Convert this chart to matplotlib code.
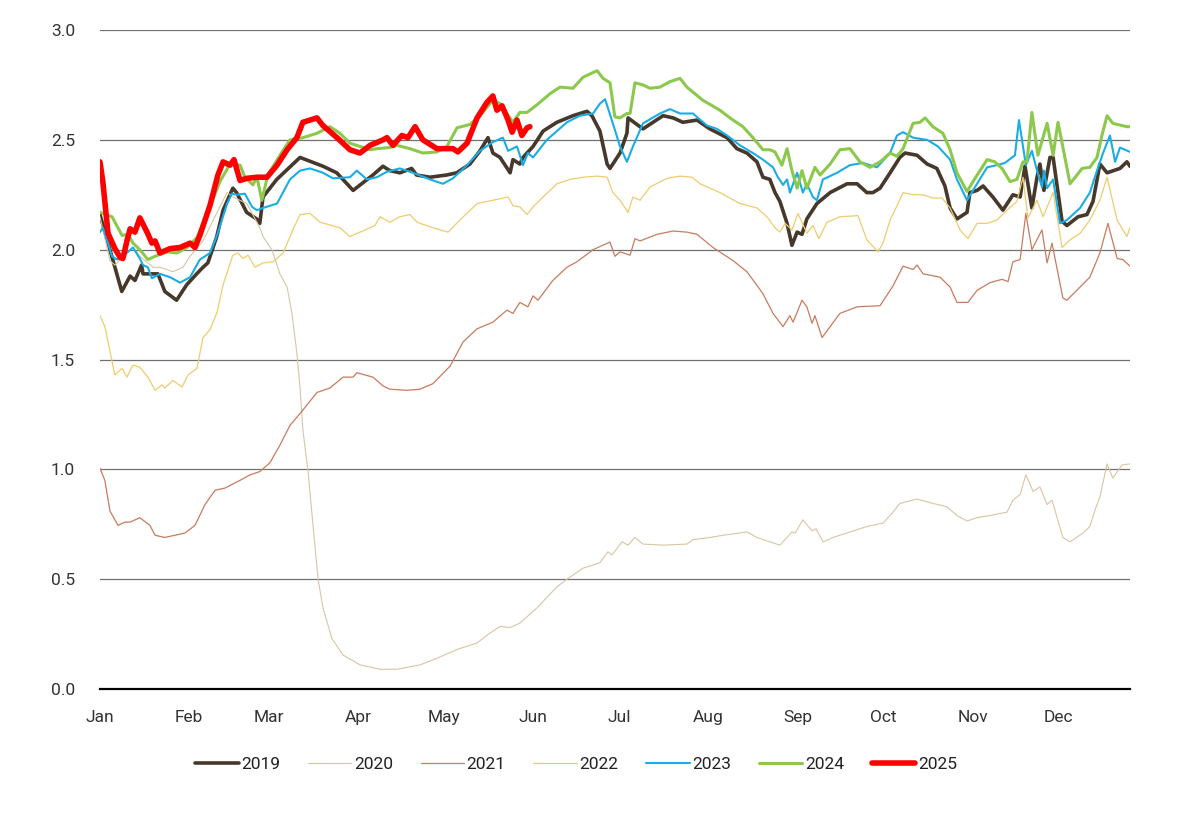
import matplotlib
matplotlib.use("Agg")
import matplotlib.pyplot as plt

plt.rcParams['font.family'] = ['Roboto', 'DejaVu Sans']

# day of year (0 = Jan 1) and value for each year
d2019 = [0, 7.6, 10.5, 12.2, 14.5, 15, 20.2, 22.6, 26.7, 30.2, 33.7, 35.9, 37.6, 40.7, 42.9, 46.3, 47.6, 51.1,
         54.6, 55.7, 56.8, 61.6, 69.7, 77.7, 82.5, 88.2, 95.1, 98.6, 101, 104.5, 108.6, 110.3, 115, 120.8, 124.3,
         128.9, 132.4, 135.2, 136.9, 139.4, 142.9, 143.9, 146.3, 147.4, 150.9, 154.4, 159.2, 164.8, 169.7, 171.4,
         174.2, 176.7, 177.7, 181.2, 183.6, 184, 187.1, 189.2, 196.2, 199.7, 203.1, 208, 212.5, 218.5, 221.9,
         225.4, 228.9, 231, 233.4, 235.2, 236.9, 239.4, 241.1, 242.9, 244.6, 246.3, 249.8, 254.4, 260.3, 263.8,
         267.2, 269.3, 271.8, 275.3, 278.7, 280.5, 284.7, 288.2, 291.6, 294.4, 296.2, 298.6, 302.1, 303.1, 305.6,
         307.7, 311.1, 314.6, 318.1, 320.6, 322.3, 324.7, 326.5, 327.5, 328.9, 331, 332.1, 335.2, 336.9, 340.8,
         343.9, 346, 348.4, 350.9, 355.4, 357.8, 358.9]
v2019 = [2.16, 1.81, 1.88, 1.86, 1.93, 1.89, 1.89, 1.81, 1.77, 1.84, 1.89, 1.92, 1.94, 2.06, 2.18, 2.28, 2.26, 2.17,
         2.14, 2.12, 2.24, 2.32, 2.42, 2.38, 2.35, 2.27, 2.34, 2.38, 2.36, 2.35, 2.37, 2.34, 2.33, 2.34, 2.35,
         2.39, 2.45, 2.51, 2.44, 2.42, 2.35, 2.41, 2.39, 2.42, 2.47, 2.54, 2.58, 2.61, 2.63, 2.61,
         2.54, 2.39, 2.37, 2.44, 2.53, 2.60, 2.57, 2.55, 2.61, 2.60, 2.58, 2.59, 2.55, 2.51, 2.46,
         2.44, 2.40, 2.33, 2.32, 2.26, 2.22, 2.12, 2.02, 2.08, 2.07, 2.14, 2.21, 2.26, 2.30, 2.30,
         2.26, 2.26, 2.28, 2.35, 2.42, 2.44, 2.43, 2.39, 2.37, 2.29, 2.19, 2.14, 2.17, 2.26, 2.27,
         2.29, 2.24, 2.18, 2.25, 2.24, 2.38, 2.19, 2.33, 2.39, 2.27, 2.42, 2.42, 2.13, 2.11, 2.15,
         2.16, 2.22, 2.39, 2.35, 2.37, 2.40, 2.38]

d2020 = [0, 3.5, 5.2, 11.5, 13.9, 18.5, 20.9, 25.4, 28.9, 31.4, 35.9, 40.8, 44.3, 46.3, 51.2, 55.7, 56.8, 59.9,
         62.7, 65.2, 66.9, 68.6, 69.7, 70.7, 72.5, 74.2, 76, 77.7, 80.8, 84.7, 90.6, 97.6, 103.5, 111.5, 117.4,
         124.4, 131.4, 135.9, 139.4, 142.9, 146.3, 152.3, 159.2, 162.7, 168.3, 174.2, 177, 178.4, 181.9, 184,
         186.4, 189.2, 196.2, 204.5, 206.6, 212.5, 217.1, 225.4, 228.9, 236.9, 241.1, 242.2, 244.9, 248.1,
         249.5, 251.9, 255.4, 261.3, 267.2, 272.8, 276.3, 278.7, 284.7, 290.2, 295.1, 298.6, 302.1, 305.6,
         310.1, 316, 318.1, 320.6, 322.6, 325.1, 327.5, 330, 331.7, 335.5, 338, 342.5, 344.9, 346.7, 348.4,
         350.9, 352.9, 356.1, 358.9]
v2020 = [2.15, 1.95, 1.93, 2.01, 1.97, 1.92, 1.92, 1.90, 1.92, 1.97, 2.04, 2.17, 2.26, 2.24, 2.21, 2.10, 2.06, 2.00,
         1.89, 1.83, 1.71, 1.53, 1.375, 1.18, 0.99, 0.75, 0.50, 0.37, 0.23, 0.155, 0.11, 0.09, 0.09, 0.11, 0.14,
         0.18, 0.21, 0.255, 0.285, 0.28, 0.30, 0.37, 0.465, 0.50, 0.55, 0.575, 0.625, 0.61, 0.67, 0.655,
         0.69, 0.66, 0.655, 0.66, 0.68, 0.69, 0.70, 0.715, 0.69, 0.655, 0.715, 0.71, 0.77, 0.72,
         0.73, 0.67, 0.69, 0.715, 0.74, 0.755, 0.805, 0.845, 0.865, 0.845, 0.83, 0.79, 0.765, 0.78,
         0.79, 0.805, 0.86, 0.885, 0.975, 0.90, 0.92, 0.84, 0.86, 0.69, 0.67, 0.71, 0.74, 0.815, 0.875,
         1.025, 0.96, 1.02, 1.025]

d2021 = [0, 1.7, 3.5, 6.3, 8.7, 10.5, 13.9, 17.4, 19.2, 22.6, 26.1, 29.6, 33.1, 36.6, 40.1, 43.6, 48.8, 52.3,
         55.7, 59.2, 62.7, 66.2, 70.7, 75.6, 80.1, 84.7, 88.2, 89.5, 95.1, 98.6, 101, 107, 111.5, 116, 122,
         126.5, 131.4, 136.9, 141.8, 143.9, 146.3, 149.1, 150.9, 152.6, 157.8, 162.7, 166.2, 171.8, 177.7,
         179.4, 181.2, 184.7, 186.4, 188.2, 194.1, 199.7, 204.5, 208, 213.6, 220.6, 225.4, 231, 234.5, 238,
         240.4, 241.5, 244.6, 246.3, 248.1, 249.1, 251.6, 257.8, 263.8, 271.8, 276.3, 279.8, 283.3, 284.7,
         286.8, 292.7, 296.2, 298.6, 302.4, 305.6, 310.1, 314.3, 316.4, 318.1, 320.6, 322.6, 324.7, 328.2,
         330, 331.7, 335.5, 336.9, 341.5, 344.9, 348.4, 351.2, 354.4, 356.4, 358.9]
v2021 = [1.005, 0.95, 0.81, 0.745, 0.76, 0.76, 0.78, 0.745, 0.70, 0.69, 0.70, 0.71, 0.745, 0.84, 0.905, 0.915, 0.95,
         0.975, 0.99, 1.03, 1.11, 1.20, 1.27, 1.35, 1.37, 1.42, 1.42, 1.44, 1.42, 1.38, 1.365, 1.36, 1.365, 1.39,
         1.47, 1.58, 1.64, 1.67, 1.725, 1.71, 1.76, 1.74, 1.79, 1.77, 1.86, 1.92, 1.945, 2.00, 2.035,
         1.97, 1.99, 1.975, 2.05, 2.04, 2.07, 2.085, 2.08, 2.07, 2.01, 1.95, 1.90, 1.80, 1.71, 1.65,
         1.70, 1.67, 1.77, 1.74, 1.665, 1.70, 1.60, 1.71, 1.74, 1.745, 1.835, 1.925, 1.91, 1.93,
         1.89, 1.875, 1.83, 1.76, 1.76, 1.815, 1.85, 1.865, 1.855, 1.945, 1.955, 2.165, 2.00, 2.09,
         1.94, 2.03, 1.78, 1.77, 1.83, 1.875, 1.985, 2.12, 1.96, 1.955, 1.925]

d2022 = [0, 1.7, 5.2, 7.7, 9.4, 11.5, 13.9, 16.7, 19.2, 21.6, 22.6, 25.4, 28.6, 30.7, 33.8, 35.9, 38.3, 40.8,
         42.9, 46.3, 48.1, 49.8, 51.6, 54, 56.8, 60.3, 63.8, 67.2, 69.7, 73.2, 76.7, 83.6, 87.1, 90.6, 95.8,
         97.6, 101, 104.5, 108, 110.5, 116, 121.3, 125.4, 131.4, 136.9, 142.2, 143.9, 146.3, 148.8, 150.9,
         154.4, 159.2, 163.8, 168.3, 173.2, 176.7, 178.7, 181.2, 184, 185.7, 188.2, 191.6, 197.6, 202.1,
         206.3, 209.1, 216, 223, 228.9, 232.4, 235.2, 236.9, 238.7, 241.1, 243.2, 246.3, 248.4, 250.5, 253.3,
         257.8, 264.1, 267.2, 269.3, 271.1, 272.8, 275.3, 277.7, 279.8, 283.3, 286.8, 290.2, 293.4, 296.2,
         299.7, 302.4, 305.6, 309.1, 312.5, 316, 319.5, 321.6, 323.3, 326.5, 328.6, 332.1, 335.2, 338, 341.5,
         344.9, 348.4, 350.9, 354.4, 357.8, 358.9]
v2022 = [1.70, 1.65, 1.43, 1.46, 1.42, 1.475, 1.465, 1.42, 1.36, 1.385, 1.37, 1.405, 1.375, 1.43, 1.46, 1.60, 1.635,
         1.715, 1.84, 1.975, 1.985, 1.96, 1.975, 1.92, 1.94, 1.945, 1.985, 2.09, 2.16, 2.165, 2.125, 2.10, 2.06,
         2.08, 2.11, 2.15, 2.125, 2.15, 2.16, 2.125, 2.10, 2.08, 2.135, 2.21, 2.225, 2.24, 2.20, 2.195, 2.16,
         2.195, 2.24, 2.30, 2.32, 2.33, 2.335, 2.33, 2.26, 2.225, 2.17, 2.24, 2.225, 2.285, 2.325, 2.335,
         2.33, 2.30, 2.26, 2.21, 2.19, 2.15, 2.10, 2.08, 2.12, 2.09, 2.165, 2.075, 2.11, 2.05, 2.125,
         2.15, 2.155, 2.045, 2.015, 1.99, 2.03, 2.135, 2.20, 2.26, 2.25, 2.25, 2.235, 2.235, 2.19,
         2.09, 2.05, 2.12, 2.12, 2.135, 2.18, 2.22, 2.33, 2.145, 2.225, 2.15, 2.26, 2.01, 2.045, 2.075,
         2.135, 2.225, 2.33, 2.135, 2.06, 2.10]

d2023 = [0, 1, 2.8, 4.2, 5.9, 8, 11.5, 13.9, 15, 16.7, 18.1, 20.9, 24.4, 27.9, 31.4, 34.8, 36.6, 38.3, 40.8,
         44.3, 46, 47.7, 50.5, 53, 54.7, 56.8, 61.7, 66.2, 69.7, 73.2, 77.7, 81.2, 87.1, 89.5, 93, 96.5, 100,
         104.5, 109.1, 115, 119.5, 123, 127.9, 132.4, 136.9, 140.4, 142.2, 145.3, 147.4, 149.1, 150.9, 155.7,
         162.7, 167.2, 171.8, 174.2, 176, 178.7, 181.2, 183.6, 185.7, 189.2, 195.1, 198.6, 202.1, 206.6,
         211.5, 215, 218.5, 223, 227.5, 231, 234.5, 236.2, 238, 239.4, 240.4, 242.9, 244.9, 246.3, 248.4,
         249.8, 251.9, 256.8, 261.3, 265.9, 270.7, 275.3, 277.7, 279.8, 283.3, 288.2, 292, 296.2, 298.6,
         302.1, 305.6, 309.1, 312.5, 315.3, 318.8, 320.2, 322.6, 324.7, 326.5, 328.2, 328.9, 330, 332.1,
         334.5, 336.9, 341.5, 344.9, 347.4, 349.5, 351.9, 353.7, 355.4, 358.9]
v2023 = [2.08, 2.10, 2.03, 1.97, 1.955, 1.97, 2.01, 1.96, 1.93, 1.92, 1.87, 1.89, 1.875, 1.85, 1.875, 1.955, 1.97,
         1.985, 2.065, 2.21, 2.255, 2.25, 2.255, 2.195, 2.18, 2.19, 2.21, 2.32, 2.36, 2.37, 2.35, 2.325, 2.33,
         2.36, 2.32, 2.33, 2.355, 2.37, 2.35, 2.32, 2.30, 2.325, 2.385, 2.45, 2.49, 2.51, 2.45, 2.47, 2.385,
         2.44, 2.42, 2.50, 2.58, 2.61, 2.62, 2.665, 2.685, 2.575, 2.47, 2.40, 2.47, 2.575, 2.62, 2.64, 2.62,
         2.62, 2.565, 2.55, 2.52, 2.475, 2.44, 2.41, 2.375, 2.33, 2.295, 2.32, 2.26, 2.35, 2.26, 2.30, 2.24,
         2.225, 2.32, 2.35, 2.385, 2.395, 2.375, 2.44, 2.52, 2.535, 2.51, 2.50, 2.47, 2.41, 2.32,
         2.225, 2.30, 2.375, 2.385, 2.395, 2.43, 2.59, 2.385, 2.45, 2.36, 2.285, 2.36, 2.28, 2.32,
         2.12, 2.135, 2.19, 2.26, 2.36, 2.44, 2.52, 2.40, 2.465, 2.445]

d2024 = [0, 4.2, 7.7, 9.8, 11.5, 13.9, 16.7, 19.2, 23.3, 26.8, 30.3, 33.8, 38.3, 41.8, 45.3, 48.8, 50.5, 53.3,
         54.7, 56.4, 58.5, 62.7, 66.2, 70.7, 75.6, 80.1, 83.6, 87.1, 94.1, 96.5, 101, 103.5, 108, 112.5, 117.4,
         120.9, 124.4, 128.9, 132.4, 136.9, 139.4, 143.9, 146.3, 148.8, 152.3, 156.8, 160.3, 164.8, 168.3,
         173.2, 175.3, 177.7, 179.4, 181.2, 183.6, 184.7, 186.4, 189.2, 191.6, 195.1, 198.6, 202.1, 204.5,
         210.1, 216, 219.5, 224, 227.5, 231, 233.4, 235.2, 237.6, 239.4, 241.1, 242.9, 244.6, 246.3, 249.1,
         250.9, 254.4, 257.8, 261.3, 264.8, 268.3, 271.8, 275.3, 277.7, 279.8, 283.3, 285.7, 287.5, 290.2,
         293.7, 296.2, 298.6, 302.1, 304.9, 309.1, 311.8, 314.3, 317.1, 319.5, 321.6, 323, 324.7, 326.8, 330,
         332.1, 333.8, 338, 342.2, 344.9, 347.4, 349.1, 350.9, 352.9, 357.8, 358.9]
v2024 = [2.17, 2.15, 2.065, 2.07, 2.03, 2.00, 1.955, 1.97, 1.99, 1.985, 2.01, 2.055, 2.195, 2.31, 2.39, 2.385, 2.33,
         2.295, 2.33, 2.225, 2.34, 2.43, 2.50, 2.51, 2.53, 2.56, 2.53, 2.485, 2.455, 2.46, 2.465, 2.475, 2.46,
         2.44, 2.445, 2.47, 2.555, 2.57, 2.61, 2.68, 2.665, 2.58, 2.625, 2.625, 2.66, 2.71, 2.74, 2.735, 2.785,
         2.815, 2.78, 2.76, 2.605, 2.60, 2.62, 2.62, 2.76, 2.75, 2.735, 2.74, 2.765, 2.78, 2.74,
         2.68, 2.635, 2.60, 2.56, 2.51, 2.455, 2.455, 2.445, 2.385, 2.46, 2.36, 2.28, 2.36, 2.28, 2.375,
         2.34, 2.39, 2.455, 2.46, 2.40, 2.375, 2.40, 2.44, 2.425, 2.46, 2.575, 2.58, 2.60, 2.56,
         2.53, 2.455, 2.35, 2.265, 2.325, 2.41, 2.40, 2.37, 2.31, 2.32, 2.40, 2.40, 2.625, 2.43, 2.575,
         2.43, 2.58, 2.30, 2.37, 2.375, 2.42, 2.52, 2.61, 2.575, 2.56, 2.56]

d2025 = [0, 1, 2.8, 5.2, 7, 8, 9.4, 10.5, 12.2, 13.9, 16.4, 18.1, 19.2, 20.9, 24.4, 27.9, 31.4, 33.1, 34.8, 38.3,
         41.1, 42.9, 45.3, 46.7, 48.8, 51.2, 54.7, 58.2, 61.7, 65.2, 68.6, 70.7, 75.6, 77.7, 82.6, 87.1, 90.6,
         94.1, 98.6, 100, 102.1, 105.2, 107.3, 109.8, 112.5, 117.4, 123, 124.7, 127.9, 131.4, 134.8, 136.9,
         138.3, 140.1, 142.2, 143.6, 145.3, 147, 148.8, 149.8]
v2025 = [2.40, 2.31, 2.075, 2.005, 1.965, 1.96, 2.04, 2.095, 2.08, 2.145, 2.08, 2.03, 2.04, 1.985, 2.005, 2.01,
         2.03, 2.01, 2.065, 2.20, 2.34, 2.40, 2.385, 2.41, 2.315, 2.325, 2.33, 2.33, 2.385, 2.455, 2.51, 2.58,
         2.60, 2.565, 2.51, 2.455, 2.44, 2.475, 2.50, 2.51, 2.475, 2.52, 2.51, 2.56, 2.50, 2.46, 2.46, 2.445,
         2.485, 2.60, 2.67, 2.70, 2.635, 2.655, 2.59, 2.535, 2.59, 2.52, 2.555, 2.56]

years = ["2019", "2020", "2021", "2022", "2023", "2024", "2025"]
days = [d2019, d2020, d2021, d2022, d2023, d2024, d2025]
values = [v2019, v2020, v2021, v2022, v2023, v2024, v2025]

month_labels = ["Jan", "Feb", "Mar", "Apr", "May", "Jun", "Jul", "Aug", "Sep", "Oct", "Nov", "Dec"]
month_starts = [0, 31, 59, 90, 120, 151, 181, 212, 243, 273, 304, 334]
y_ticks = [0.0, 0.5, 1.0, 1.5, 2.0, 2.5, 3.0]

colors = ["#46382b", "#d8c5a3", "#c97b5d", "#f0cb6e", "#19ade6", "#8cc84b", "#ff0000"]
widths = [2.6, 0.8, 0.9, 0.9, 1.5, 2.2, 4.0]

fig = plt.figure(figsize=(12, 8.25), dpi=100)
ax = fig.add_axes([0.0833, 0.1648, 0.8584, 0.7988])

for yr, d, v, c, w in zip(years, days, values, colors, widths):
    ax.plot(d, v, color=c, lw=w, label=yr, solid_joinstyle="round", solid_capstyle="round")

ax.set_xlim(0, 358.9)
ax.set_ylim(0, 3.0)
ax.set_yticks(y_ticks)
ax.set_yticklabels([f"{t:.1f}" for t in y_ticks])
ax.set_xticks(month_starts)
ax.set_xticklabels(month_labels)
ax.tick_params(axis="both", length=0, labelsize=12.5, colors="#333333")
ax.tick_params(axis="y", pad=18)
ax.tick_params(axis="x", pad=15)

for t in y_ticks[1:]:
    ax.axhline(t, color="#707070", lw=0.9, zorder=0)

for s in ["left", "right", "top"]:
    ax.spines[s].set_visible(False)
ax.spines["bottom"].set_color("black")
ax.spines["bottom"].set_linewidth(1.6)

fig.legend(loc="center", bbox_to_anchor=(0.48, 0.073), ncol=7, frameon=False,
           fontsize=12.5, handlelength=2.5, handletextpad=0.15, columnspacing=1.6,
           labelcolor="#222222")

fig.savefig("out.png", dpi=100)
